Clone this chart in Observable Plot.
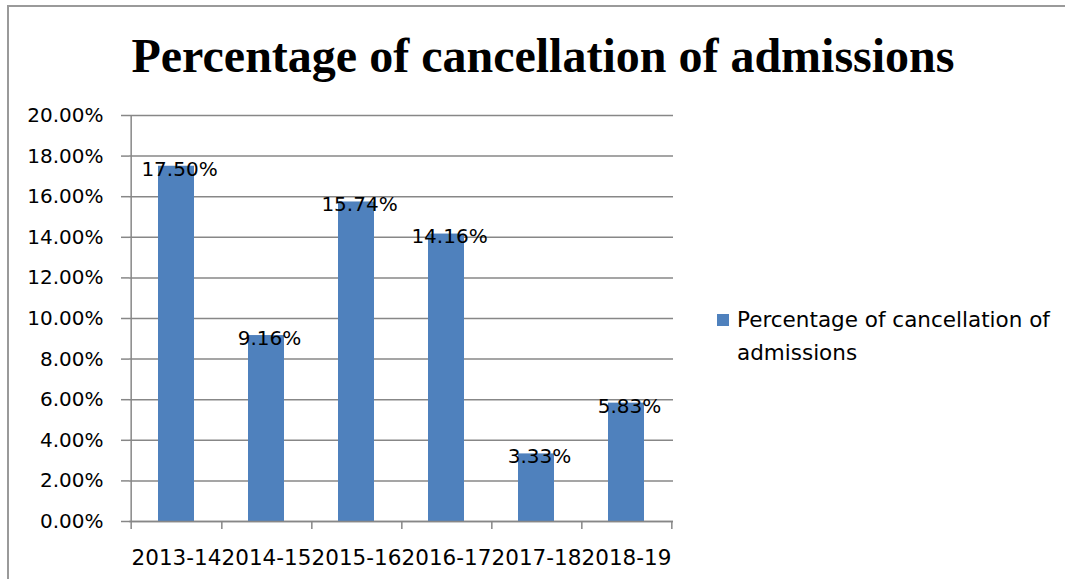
<!DOCTYPE html>
<html>
<head>
<meta charset="utf-8">
<script src="https://cdn.jsdelivr.net/npm/d3@7"></script>
<script src="https://cdn.jsdelivr.net/npm/@observablehq/plot@0.6"></script>
<style>
  body { margin: 0; background: #fff; }
  #wrap { position: relative; width: 1065px; height: 579px; overflow: hidden; background: #fff; }
  #border { position: absolute; left: 7px; top: 5px; width: 1100px; height: 620px;
            border-left: 2px solid #9a9a9a; border-top: 2px solid #9a9a9a; }
  #title { position: absolute; left: 0; top: 32px; width: 1086px; text-align: center;
           font: bold 48px "Liberation Serif", "Times New Roman", serif; line-height: 48px; color: #000; }
  #chart { position: absolute; left: 0; top: 100px; }
  #legend { position: absolute; left: 717px; top: 303px; font: 21.5px "DejaVu Sans", sans-serif;
            line-height: 33px; color: #000; }
  #legend .sw { position: absolute; left: 0; top: 11px; width: 12px; height: 12px; }
  #legend .tx { position: absolute; left: 20px; top: 0; white-space: nowrap; }
</style>
</head>
<body>
<div id="wrap">
  <div id="border"></div>
  <div id="title"></div>
  <div id="chart"></div>
  <div id="legend"><div class="sw"></div><div class="tx"></div></div>
</div>
<script>
const titleText = "Percentage of cancellation of admissions";
const seriesName = "Percentage of cancellation of admissions";
const years = ["2013-14", "2014-15", "2015-16", "2016-17", "2017-18", "2018-19"];
const values = [0.1750, 0.0916, 0.1574, 0.1416, 0.0333, 0.0583];
const yTicks = [0, 0.02, 0.04, 0.06, 0.08, 0.10, 0.12, 0.14, 0.16, 0.18, 0.20];

const barColor = "#4F81BD";
const gridColor = "#878787";
const fmt = d3.format(".2%");

document.getElementById("title").textContent = titleText;
document.querySelector("#legend .sw").style.background = barColor;
document.querySelector("#legend .tx").innerHTML = "Percentage of cancellation of<br>admissions";

const data = years.map((y, i) => ({year: y, value: values[i]}));

const W = 700, H = 479, ML = 129, MR = 27, MT = 15, MB = 58;
const step = (W - ML - MR) / years.length;

const chart = Plot.plot({
  width: W, height: H,
  marginLeft: ML, marginRight: MR, marginTop: MT, marginBottom: MB,
  style: {fontFamily: "DejaVu Sans, sans-serif", fontSize: "20px", color: "#000", background: "transparent", overflow: "visible"},
  x: {domain: years, paddingInner: 0.6, paddingOuter: 0.3, align: 0.5},
  y: {domain: [0, 0.2]},
  marks: [
    Plot.gridY(yTicks, {stroke: gridColor, strokeOpacity: 1, strokeWidth: 1.5}),
    Plot.barY(data, {x: "year", y: "value", fill: barColor}),
    Plot.ruleY([0], {stroke: gridColor, strokeWidth: 1.5}),
    Plot.ruleX([years[0]], {y1: 0.2, y2: 0, dx: -step / 2, insetBottom: -8, stroke: gridColor, strokeWidth: 1.5}),
    Plot.ruleX(years, {x: d => d, y1: 0, y2: 0, dx: step / 2, insetBottom: -8, stroke: gridColor, strokeWidth: 1.5}),
    Plot.axisY(yTicks, {tickSize: 8, tickPadding: 18, tickFormat: fmt, stroke: gridColor, strokeWidth: 1.5, fill: "#000", label: null, fontSize: 20}),
    Plot.axisX({tickSize: 0, tickPadding: 28, fill: "#000", label: null, fontSize: 21.5}),
    Plot.text(data, {x: "year", y: "value", text: d => fmt(d.value), lineAnchor: "middle", dy: 3, dx: 3, fill: "#000", fontSize: 20})
  ]
});
document.getElementById("chart").appendChild(chart);
</script>
</body>
</html>
